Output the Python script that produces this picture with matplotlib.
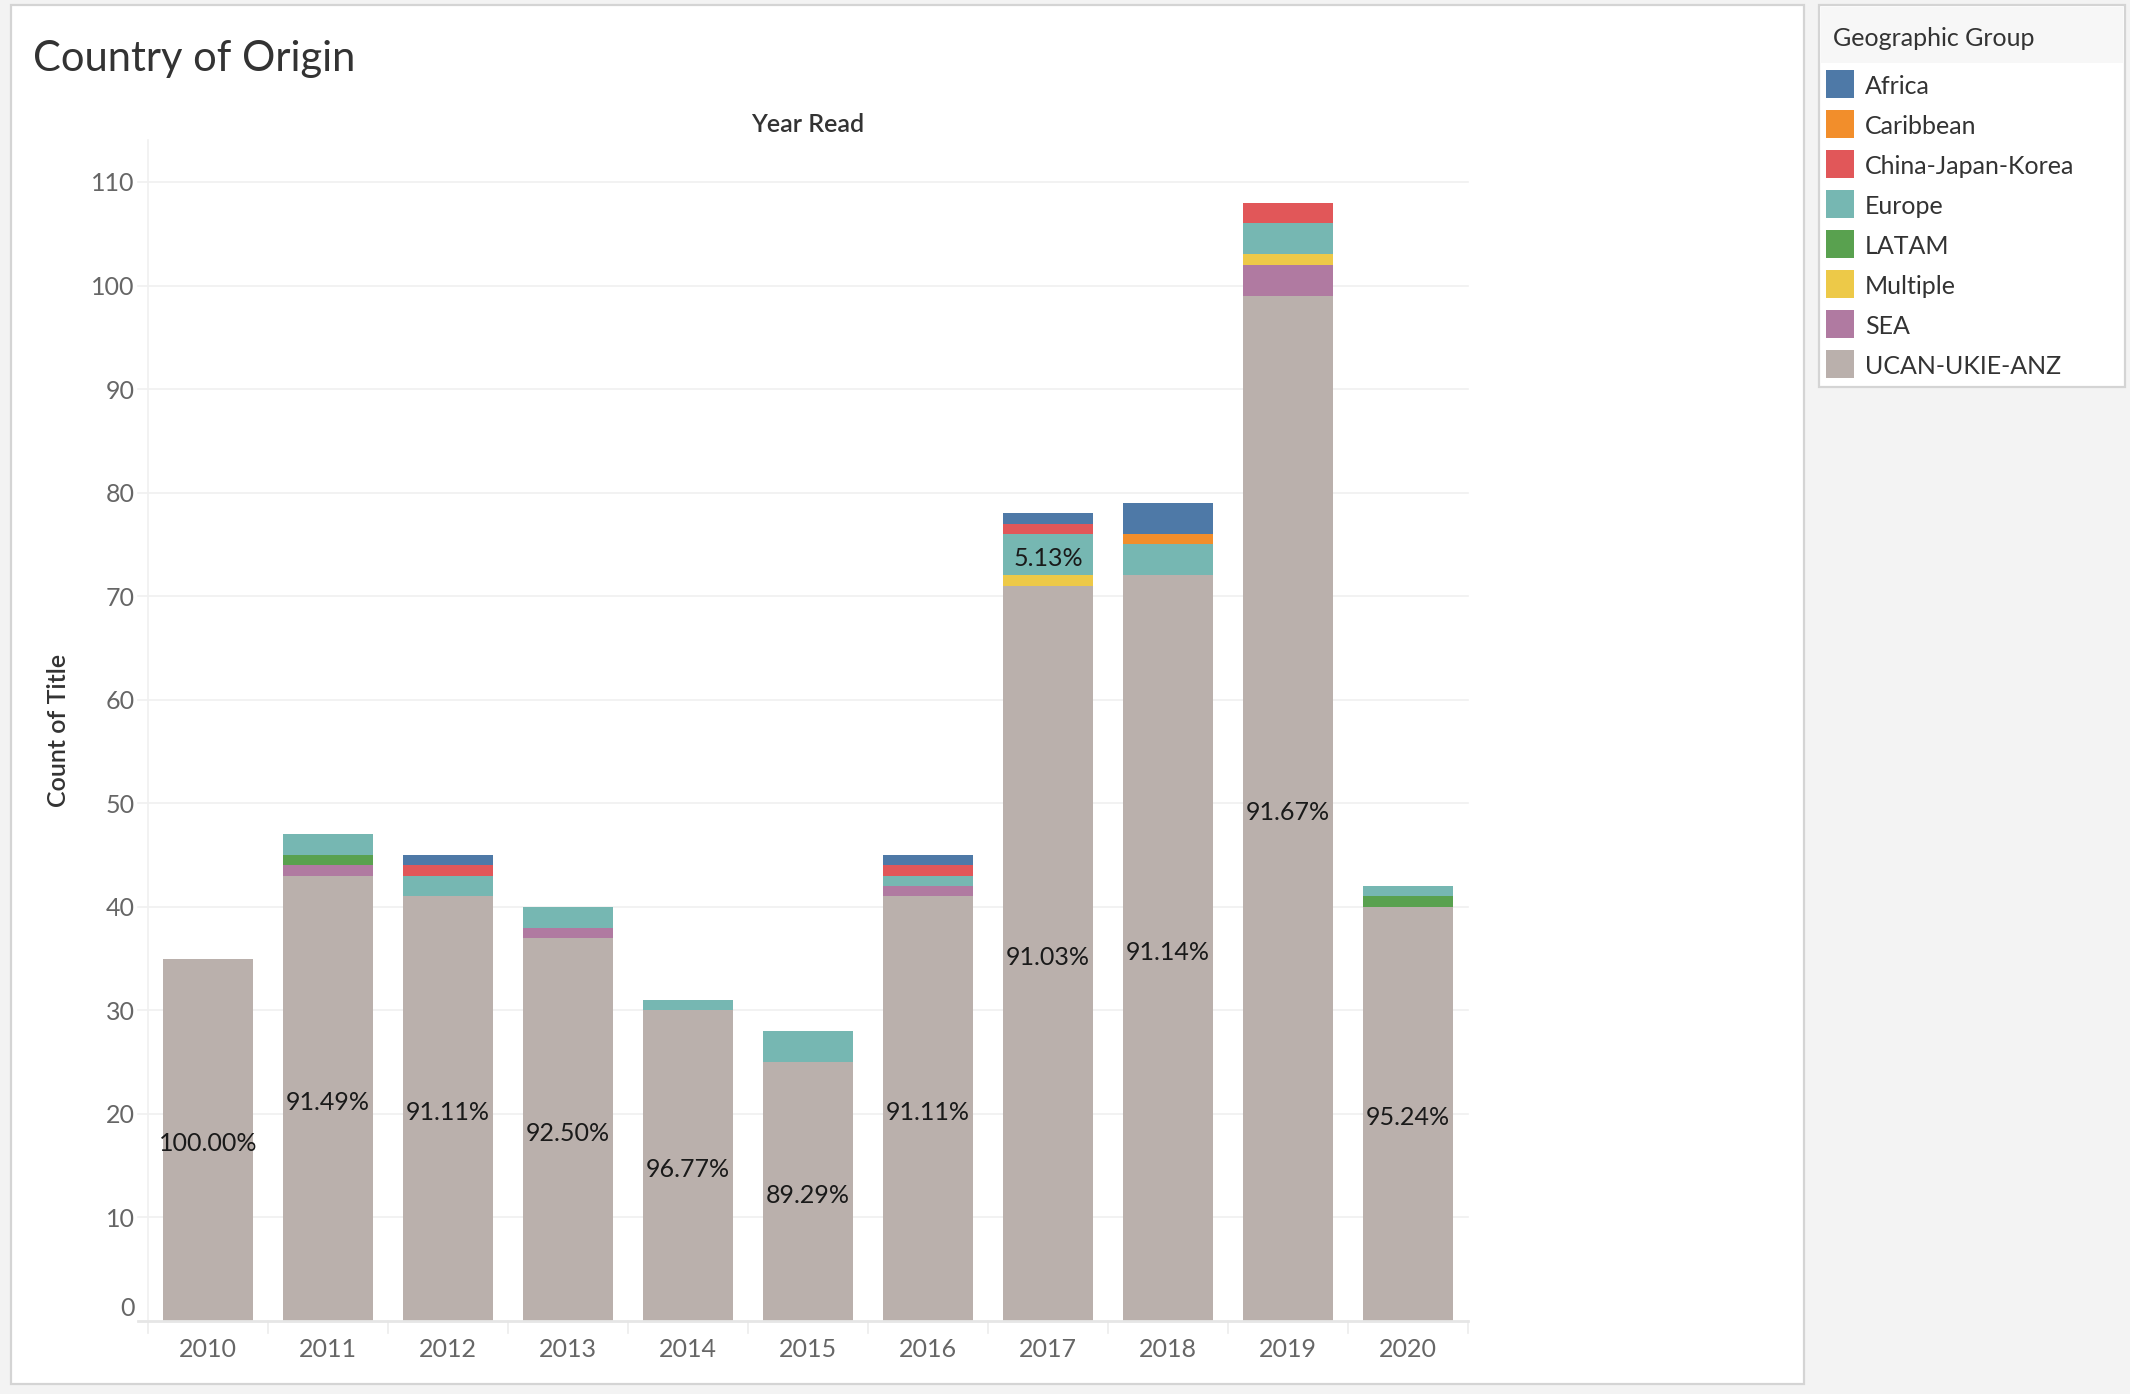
import matplotlib
matplotlib.use('Agg')
import matplotlib.pyplot as plt
from matplotlib.patches import Rectangle
import matplotlib.transforms as mtransforms
import numpy as np

plt.rcParams['font.family'] = ['Lato', 'DejaVu Sans']

# ---------------- data ----------------
years = ['2010', '2011', '2012', '2013', '2014', '2015', '2016', '2017', '2018', '2019', '2020']
groups = ['Africa', 'Caribbean', 'China-Japan-Korea', 'Europe', 'LATAM', 'Multiple', 'SEA', 'UCAN-UKIE-ANZ']
group_colors = ['#4e79a7', '#f28e2b', '#e15759', '#76b7b2', '#59a14f', '#edc948', '#b07aa1', '#bab0ac']

africa    = [0, 0, 1, 0, 0, 0, 1, 1, 3, 0, 0]
caribbean = [0, 0, 0, 0, 0, 0, 0, 0, 1, 0, 0]
cjk       = [0, 0, 1, 0, 0, 0, 1, 1, 0, 2, 0]
europe    = [0, 2, 2, 2, 1, 3, 1, 4, 3, 3, 1]
latam     = [0, 1, 0, 0, 0, 0, 0, 0, 0, 0, 1]
multiple  = [0, 0, 0, 0, 0, 0, 0, 1, 0, 1, 0]
sea       = [0, 1, 0, 1, 0, 0, 1, 0, 0, 3, 0]
ucan      = [35, 43, 41, 37, 30, 25, 41, 71, 72, 99, 40]

series = {
    'Africa': africa, 'Caribbean': caribbean, 'China-Japan-Korea': cjk,
    'Europe': europe, 'LATAM': latam, 'Multiple': multiple, 'SEA': sea,
    'UCAN-UKIE-ANZ': ucan,
}
# which segments carry a percent-of-total label (group, year)
labelled = [('UCAN-UKIE-ANZ', y) for y in years] + [('Europe', '2017')]

yticks = list(range(0, 111, 10))

# ---------------- figure ----------------
W, H = 2130, 1394
DPI = 200
fig = plt.figure(figsize=(W / DPI, H / DPI), dpi=DPI)
fig.patch.set_facecolor('#f3f3f3')

def fx(x):
    return x / W

def fy(y):
    return 1 - y / H

# white worksheet panel
fig.patches.append(Rectangle((fx(11), fy(1384)), fx(1804) - fx(11), fy(5) - fy(1384),
                             transform=fig.transFigure, facecolor='white',
                             edgecolor='#d4d4d4', linewidth=0.8, zorder=-5))

# axes
left, right, top, bottom = 148, 1468, 140, 1321
ax = fig.add_axes([fx(left), fy(bottom), fx(right) - fx(left), fy(top) - fy(bottom)])
ax.set_zorder(5)
ax.set_facecolor('white')
ax.set_xlim(-0.5, len(years) - 0.5)
ax.set_ylim(0, (bottom - top) / 10.355)

x = np.arange(len(years))
totals = np.zeros(len(years))
for g in groups:
    totals += np.array(series[g])

down = mtransforms.ScaledTranslation(0, -4 / DPI, fig.dpi_scale_trans)

stack_order = groups[::-1]  # UCAN at the bottom
base = np.zeros(len(years))
for g in stack_order:
    vals = np.array(series[g], dtype=float)
    col = group_colors[groups.index(g)]
    ax.bar(x, vals, bottom=base, width=0.75, color=col, linewidth=0, zorder=3)
    for i, yr in enumerate(years):
        if (g, yr) in labelled and vals[i] > 0:
            pct = vals[i] / totals[i] * 100
            ax.text(x[i], base[i] + vals[i] / 2, f'{pct:.2f}%', ha='center', va='center',
                    fontsize=9, color='#1a1a1a', zorder=5, transform=ax.transData + down)
    base += vals

# gridlines (extending slightly left as tick marks)
trans_b = mtransforms.blended_transform_factory(ax.transAxes, ax.transData)
for t in yticks:
    col = '#e6e6e6' if t == 0 else '#f0f0f0'
    lw = 1.0 if t == 0 else 0.6
    ax.plot([-10 / (right - left), 1], [t, t], transform=trans_b, color=col,
            linewidth=lw, clip_on=False, zorder=1 if t else 4)

# category separators below x axis
trans_x = mtransforms.blended_transform_factory(ax.transData, ax.transAxes)
for b in np.arange(-0.5, len(years), 1.0):
    ax.plot([b, b], [0, -12 / (bottom - top)], transform=trans_x, color='#ececec',
            linewidth=0.6, clip_on=False)

for s in ['top', 'right', 'bottom']:
    ax.spines[s].set_visible(False)
ax.spines['left'].set_color('#f0f0f0')
ax.spines['left'].set_linewidth(0.6)

ax.set_yticks(yticks)
ax.set_yticklabels([str(t) for t in yticks])
ax.set_xticks(x)
ax.set_xticklabels(years)
ax.tick_params(axis='y', length=0, pad=4.7, labelsize=9, labelcolor='#666666')
ax.tick_params(axis='x', length=0, pad=6.0, labelsize=9, labelcolor='#666666')
# Tableau nudges the "0" label up so it stays inside the pane
lab0 = ax.get_yticklabels()[0]
lab0.set_transform(lab0.get_transform() + mtransforms.ScaledTranslation(0, 14 / DPI, fig.dpi_scale_trans))

# headers and titles
fig.text(fx(33), fy(59), 'Country of Origin', fontsize=15, fontweight='normal',
         color='#333333', ha='left', va='center')
fig.text(fx((left + right) / 2), fy(124), 'Year Read', fontsize=9, fontweight='semibold',
         color='#333333', ha='center', va='center')
fig.text(fx(59), fy((top + bottom) / 2), 'Count of Title', fontsize=9, fontweight='semibold',
         color='#333333', ha='center', va='center', rotation=90)

# legend box
fig.patches.append(Rectangle((fx(1819), fy(387)), fx(2125) - fx(1819), fy(5) - fy(387),
                             transform=fig.transFigure, facecolor='white',
                             edgecolor='#d4d4d4', linewidth=0.8, zorder=1))
fig.patches.append(Rectangle((fx(1821), fy(63)), fx(2123) - fx(1821), fy(7) - fy(63),
                             transform=fig.transFigure, facecolor='#f7f7f7',
                             edgecolor='none', zorder=2))
fig.text(fx(1833), fy(38), 'Geographic Group', fontsize=9, color='#333333',
         ha='left', va='center', zorder=3)
for i, (g, c) in enumerate(zip(groups, group_colors)):
    cy = 84 + 40 * i
    fig.patches.append(Rectangle((fx(1826), fy(cy + 14)), fx(28), 28 / H,
                                 transform=fig.transFigure, facecolor=c,
                                 edgecolor='none', zorder=3))
    fig.text(fx(1865), fy(cy + 3), g, fontsize=9, color='#333333', ha='left',
             va='center', zorder=3)

fig.savefig('out.png', dpi=DPI, facecolor=fig.get_facecolor())
